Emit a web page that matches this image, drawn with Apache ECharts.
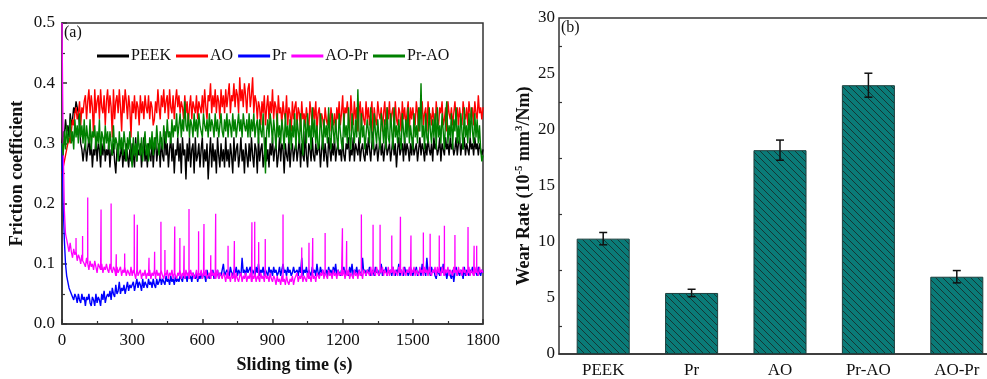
<!DOCTYPE html>
<html>
<head>
<meta charset="utf-8">
<script src="https://cdn.jsdelivr.net/npm/echarts@6/dist/echarts.min.js"></script>
<style>
  html, body { margin: 0; padding: 0; background: #fff; overflow: hidden; }
  #chart { width: 1010px; height: 379px; }
</style>
</head>
<body>
<div id="chart"></div>
<script>
// (a) friction coefficient, sampled every 5 s from 0 to 1800 s (one row = 100 s)
const timeStep = 5;

const peekValues = [
  0.30,0.32,0.31,0.34,0.32,0.33,0.31,0.35,0.33,0.34,0.36,0.35,0.37,0.36,0.35,0.33,0.30,0.29,0.27,0.29,
  0.30,0.27,0.29,0.31,0.28,0.30,0.26,0.29,0.28,0.31,0.27,0.30,0.29,0.26,0.30,0.28,0.31,0.27,0.29,0.28,
  0.30,0.26,0.29,0.28,0.30,0.27,0.25,0.29,0.30,0.27,0.28,0.30,0.26,0.29,0.27,0.30,0.28,0.26,0.29,0.27,
  0.30,0.28,0.26,0.31,0.27,0.29,0.28,0.30,0.26,0.29,0.31,0.27,0.29,0.26,0.30,0.28,0.27,0.31,0.26,0.29,
  0.31,0.27,0.29,0.30,0.26,0.31,0.28,0.27,0.32,0.28,0.30,0.26,0.29,0.31,0.27,0.30,0.25,0.29,0.28,0.31,
  0.27,0.30,0.25,0.31,0.28,0.29,0.24,0.30,0.27,0.31,0.26,0.29,0.30,0.25,0.31,0.27,0.28,0.30,0.26,0.29,
  0.31,0.26,0.29,0.27,0.30,0.24,0.28,0.31,0.26,0.30,0.27,0.29,0.25,0.31,0.28,0.26,0.30,0.27,0.29,0.26,
  0.31,0.27,0.29,0.26,0.30,0.28,0.25,0.31,0.27,0.29,0.30,0.26,0.28,0.31,0.27,0.29,0.25,0.30,0.28,0.26,
  0.30,0.27,0.31,0.28,0.26,0.30,0.29,0.25,0.31,0.27,0.29,0.30,0.26,0.28,0.31,0.27,0.29,0.26,0.30,0.28,
  0.31,0.27,0.29,0.30,0.26,0.28,0.31,0.27,0.30,0.29,0.25,0.30,0.28,0.27,0.31,0.26,0.29,0.30,0.27,0.29,
  0.30,0.27,0.29,0.31,0.26,0.30,0.28,0.27,0.32,0.28,0.26,0.30,0.29,0.27,0.31,0.28,0.27,0.30,0.28,0.29,
  0.30,0.26,0.29,0.31,0.27,0.30,0.28,0.26,0.31,0.29,0.27,0.30,0.28,0.31,0.27,0.29,0.30,0.28,0.29,0.27,
  0.31,0.28,0.27,0.30,0.29,0.31,0.27,0.29,0.28,0.31,0.27,0.30,0.29,0.28,0.31,0.27,0.29,0.30,0.28,0.27,
  0.30,0.28,0.31,0.29,0.27,0.30,0.32,0.28,0.29,0.30,0.27,0.29,0.31,0.28,0.30,0.27,0.29,0.31,0.28,0.29,
  0.30,0.27,0.29,0.31,0.28,0.30,0.26,0.29,0.31,0.28,0.29,0.30,0.27,0.31,0.28,0.30,0.29,0.27,0.30,0.28,
  0.31,0.28,0.29,0.30,0.27,0.29,0.31,0.28,0.30,0.29,0.27,0.30,0.28,0.31,0.29,0.28,0.30,0.27,0.31,0.29,
  0.30,0.28,0.29,0.31,0.27,0.30,0.29,0.28,0.31,0.29,0.30,0.28,0.31,0.29,0.30,0.28,0.29,0.31,0.28,0.30,
  0.31,0.28,0.30,0.29,0.31,0.28,0.30,0.29,0.28,0.31,0.29,0.30,0.28,0.31,0.29,0.30,0.28,0.30,0.29,0.28,
  0.29
];

const aoValues = [
  0.25,0.26,0.27,0.28,0.29,0.30,0.31,0.30,0.32,0.34,0.33,0.35,0.36,0.34,0.35,0.37,0.33,0.36,0.35,0.37,
  0.38,0.34,0.37,0.39,0.35,0.38,0.36,0.31,0.39,0.35,0.37,0.38,0.34,0.39,0.36,0.35,0.38,0.33,0.37,0.39,
  0.35,0.38,0.36,0.31,0.39,0.34,0.37,0.38,0.35,0.39,0.36,0.32,0.38,0.35,0.39,0.37,0.34,0.38,0.36,0.31,
  0.37,0.35,0.38,0.34,0.37,0.36,0.33,0.38,0.35,0.37,0.34,0.38,0.36,0.35,0.38,0.34,0.37,0.36,0.33,0.34,
  0.37,0.35,0.39,0.36,0.34,0.38,0.36,0.39,0.35,0.37,0.38,0.34,0.39,0.36,0.35,0.38,0.34,0.37,0.39,0.36,
  0.38,0.35,0.37,0.36,0.34,0.38,0.35,0.37,0.33,0.36,0.38,0.34,0.37,0.36,0.35,0.38,0.34,0.37,0.36,0.35,
  0.38,0.35,0.39,0.36,0.34,0.38,0.37,0.40,0.35,0.38,0.36,0.39,0.35,0.38,0.37,0.34,0.39,0.36,0.38,0.35,
  0.39,0.36,0.38,0.40,0.35,0.38,0.37,0.40,0.36,0.39,0.38,0.35,0.41,0.37,0.39,0.36,0.40,0.38,0.35,0.39,
  0.40,0.36,0.38,0.41,0.35,0.38,0.37,0.34,0.37,0.36,0.33,0.37,0.35,0.38,0.33,0.36,0.38,0.34,0.37,0.35,
  0.39,0.34,0.37,0.36,0.33,0.38,0.35,0.36,0.33,0.37,0.35,0.34,0.38,0.33,0.36,0.35,0.32,0.37,0.34,0.36,
  0.37,0.33,0.36,0.35,0.32,0.37,0.34,0.35,0.33,0.36,0.34,0.32,0.37,0.35,0.33,0.36,0.34,0.37,0.32,0.35,
  0.36,0.33,0.35,0.34,0.32,0.36,0.34,0.33,0.35,0.32,0.36,0.34,0.33,0.35,0.32,0.36,0.34,0.37,0.33,0.35,
  0.38,0.33,0.36,0.35,0.37,0.34,0.32,0.38,0.35,0.33,0.37,0.34,0.36,0.32,0.35,0.37,0.33,0.36,0.34,0.33,
  0.37,0.34,0.36,0.33,0.35,0.37,0.32,0.36,0.34,0.33,0.37,0.35,0.34,0.36,0.32,0.35,0.37,0.33,0.36,0.34,
  0.37,0.33,0.35,0.36,0.32,0.37,0.34,0.33,0.36,0.35,0.32,0.37,0.34,0.36,0.33,0.35,0.37,0.32,0.36,0.34,
  0.36,0.34,0.33,0.37,0.35,0.32,0.36,0.34,0.37,0.33,0.35,0.36,0.32,0.37,0.34,0.35,0.33,0.36,0.34,0.32,
  0.37,0.34,0.33,0.36,0.35,0.37,0.33,0.34,0.36,0.32,0.37,0.35,0.34,0.36,0.33,0.35,0.37,0.34,0.36,0.33,
  0.36,0.34,0.33,0.37,0.35,0.34,0.36,0.33,0.37,0.35,0.34,0.36,0.33,0.37,0.35,0.34,0.38,0.35,0.36,0.34,
  0.36
];

const prValues = [
  0.30,0.20,0.14,0.10,0.08,0.07,0.06,0.055,0.05,0.045,0.04,0.05,0.045,0.035,0.05,0.04,0.035,0.05,0.04,0.045,
  0.03,0.045,0.04,0.05,0.035,0.03,0.045,0.04,0.03,0.05,0.035,0.045,0.04,0.03,0.05,0.04,0.055,0.035,0.045,0.05,
  0.045,0.055,0.04,0.06,0.05,0.045,0.065,0.05,0.055,0.07,0.05,0.06,0.055,0.065,0.05,0.06,0.07,0.055,0.065,0.06,
  0.06,0.07,0.055,0.065,0.075,0.06,0.07,0.065,0.055,0.075,0.06,0.07,0.065,0.06,0.075,0.065,0.07,0.06,0.075,0.065,
  0.06,0.075,0.065,0.07,0.08,0.065,0.075,0.07,0.065,0.08,0.07,0.075,0.065,0.08,0.07,0.075,0.065,0.08,0.07,0.075,
  0.07,0.08,0.075,0.07,0.085,0.075,0.08,0.07,0.085,0.075,0.08,0.07,0.085,0.08,0.075,0.085,0.07,0.08,0.075,0.085,
  0.075,0.085,0.08,0.07,0.09,0.08,0.075,0.085,0.08,0.09,0.075,0.085,0.08,0.09,0.075,0.085,0.08,0.09,0.10,0.08,
  0.08,0.09,0.085,0.08,0.095,0.085,0.08,0.09,0.085,0.095,0.08,0.09,0.085,0.08,0.11,0.085,0.09,0.08,0.095,0.085,
  0.085,0.095,0.08,0.09,0.085,0.08,0.095,0.085,0.10,0.08,0.09,0.085,0.095,0.08,0.09,0.085,0.08,0.095,0.085,0.09,
  0.08,0.095,0.085,0.09,0.08,0.085,0.095,0.08,0.09,0.10,0.085,0.09,0.08,0.095,0.085,0.09,0.08,0.085,0.095,0.085,
  0.085,0.09,0.08,0.095,0.085,0.11,0.08,0.09,0.085,0.095,0.08,0.09,0.085,0.08,0.095,0.085,0.09,0.08,0.10,0.085,
  0.08,0.095,0.085,0.09,0.08,0.085,0.09,0.08,0.095,0.085,0.09,0.08,0.095,0.085,0.10,0.08,0.09,0.085,0.08,0.09,
  0.085,0.095,0.08,0.09,0.085,0.08,0.095,0.085,0.10,0.08,0.09,0.085,0.095,0.08,0.09,0.085,0.08,0.11,0.085,0.09,
  0.08,0.09,0.085,0.095,0.08,0.085,0.09,0.08,0.095,0.085,0.09,0.08,0.085,0.10,0.08,0.09,0.085,0.095,0.08,0.09,
  0.085,0.09,0.08,0.095,0.085,0.08,0.09,0.085,0.10,0.08,0.09,0.085,0.08,0.095,0.085,0.09,0.08,0.085,0.095,0.085,
  0.08,0.09,0.085,0.095,0.08,0.085,0.09,0.08,0.10,0.085,0.09,0.08,0.11,0.085,0.09,0.08,0.095,0.085,0.09,0.08,
  0.075,0.09,0.085,0.08,0.095,0.085,0.10,0.08,0.09,0.075,0.085,0.09,0.08,0.075,0.09,0.07,0.085,0.095,0.08,0.09,
  0.08,0.09,0.085,0.075,0.095,0.08,0.09,0.085,0.08,0.09,0.085,0.095,0.08,0.09,0.085,0.08,0.095,0.085,0.08,0.09,
  0.085
];

const aoPrValues = [
  0.50,0.30,0.19,0.15,0.14,0.13,0.12,0.135,0.12,0.11,0.125,0.115,0.12,0.105,0.115,0.11,0.10,0.115,0.105,0.10,
  0.095,0.11,0.10,0.09,0.105,0.095,0.10,0.09,0.105,0.095,0.085,0.10,0.095,0.09,0.10,0.085,0.095,0.09,0.10,0.09,
  0.085,0.10,0.09,0.085,0.095,0.09,0.08,0.095,0.085,0.09,0.095,0.08,0.09,0.085,0.095,0.08,0.09,0.085,0.08,0.095,
  0.08,0.09,0.085,0.075,0.09,0.08,0.085,0.09,0.075,0.085,0.08,0.09,0.075,0.085,0.08,0.09,0.075,0.085,0.08,0.09,
  0.075,0.09,0.08,0.085,0.075,0.09,0.08,0.075,0.085,0.08,0.09,0.075,0.085,0.08,0.09,0.075,0.085,0.08,0.075,0.085,
  0.08,0.09,0.075,0.085,0.08,0.075,0.09,0.08,0.085,0.075,0.09,0.08,0.085,0.075,0.08,0.09,0.075,0.085,0.08,0.09,
  0.075,0.085,0.08,0.09,0.075,0.08,0.085,0.075,0.09,0.08,0.085,0.075,0.08,0.09,0.075,0.085,0.08,0.075,0.085,0.08,
  0.07,0.085,0.075,0.08,0.07,0.085,0.075,0.08,0.07,0.085,0.075,0.07,0.08,0.085,0.07,0.08,0.075,0.085,0.07,0.08,
  0.075,0.085,0.07,0.08,0.075,0.085,0.07,0.08,0.075,0.07,0.085,0.075,0.08,0.07,0.085,0.075,0.08,0.07,0.085,0.075,
  0.07,0.08,0.075,0.065,0.08,0.07,0.075,0.065,0.08,0.07,0.075,0.065,0.08,0.07,0.065,0.075,0.07,0.08,0.065,0.075,
  0.075,0.085,0.07,0.08,0.075,0.085,0.07,0.08,0.075,0.07,0.085,0.075,0.08,0.07,0.085,0.075,0.08,0.07,0.085,0.08,
  0.075,0.085,0.08,0.09,0.075,0.085,0.08,0.075,0.09,0.08,0.085,0.075,0.09,0.08,0.085,0.075,0.09,0.08,0.085,0.08,
  0.08,0.09,0.075,0.085,0.08,0.09,0.075,0.085,0.08,0.075,0.09,0.08,0.085,0.075,0.09,0.08,0.085,0.075,0.09,0.085,
  0.08,0.09,0.085,0.08,0.095,0.08,0.09,0.085,0.08,0.095,0.085,0.08,0.09,0.085,0.095,0.08,0.09,0.085,0.08,0.095,
  0.08,0.09,0.085,0.095,0.08,0.09,0.085,0.08,0.095,0.085,0.09,0.08,0.095,0.085,0.08,0.09,0.085,0.095,0.08,0.09,
  0.085,0.095,0.08,0.09,0.085,0.08,0.095,0.085,0.09,0.08,0.095,0.085,0.09,0.08,0.095,0.085,0.08,0.09,0.085,0.095,
  0.08,0.095,0.085,0.09,0.08,0.095,0.085,0.08,0.09,0.085,0.095,0.08,0.09,0.085,0.08,0.095,0.085,0.09,0.08,0.095,
  0.085,0.09,0.08,0.095,0.085,0.09,0.08,0.085,0.095,0.08,0.09,0.085,0.08,0.095,0.085,0.09,0.08,0.095,0.085,0.09,
  0.085
];

// narrow spikes on the AO-Pr curve: [time (s), peak value]
const aoPrSpikes = [
  [60,0.143],[88,0.146],[110,0.21],[167,0.19],[210,0.20],[232,0.116],[268,0.117],
  [309,0.182],[322,0.165],[372,0.11],[396,0.12],[423,0.17],[440,0.123],[482,0.162],
  [504,0.143],[522,0.13],[543,0.191],[584,0.154],[607,0.166],[636,0.114],[657,0.183],
  [710,0.13],[737,0.138],[812,0.169],[824,0.17],[841,0.136],[869,0.141],[945,0.182],
  [1025,0.127],[1056,0.135],[1072,0.143],[1125,0.151],[1199,0.159],[1217,0.138],
  [1280,0.182],[1330,0.165],[1360,0.165],[1410,0.147],[1447,0.178],[1492,0.147],
  [1545,0.152],[1574,0.15],[1613,0.147],[1635,0.163],[1680,0.148],[1736,0.161],
  [1762,0.13],[1773,0.13]
];

const prAoValues = [
  0.30,0.28,0.32,0.29,0.33,0.30,0.31,0.34,0.30,0.32,0.29,0.34,0.31,0.33,0.30,0.35,0.31,0.33,0.30,0.34,
  0.29,0.33,0.31,0.30,0.34,0.29,0.32,0.31,0.33,0.29,0.32,0.30,0.34,0.28,0.32,0.31,0.29,0.33,0.30,0.32,
  0.29,0.32,0.30,0.28,0.33,0.29,0.31,0.30,0.27,0.32,0.29,0.31,0.28,0.32,0.30,0.27,0.31,0.29,0.32,0.28,
  0.26,0.31,0.28,0.30,0.27,0.32,0.29,0.28,0.31,0.27,0.30,0.32,0.28,0.30,0.27,0.31,0.29,0.32,0.28,0.31,
  0.29,0.33,0.30,0.28,0.32,0.30,0.29,0.33,0.31,0.30,0.34,0.31,0.32,0.30,0.34,0.31,0.33,0.32,0.35,0.31,
  0.33,0.35,0.31,0.34,0.32,0.37,0.33,0.32,0.35,0.31,0.34,0.33,0.31,0.35,0.32,0.34,0.31,0.35,0.33,0.32,
  0.31,0.35,0.33,0.32,0.34,0.31,0.35,0.32,0.34,0.33,0.31,0.35,0.32,0.34,0.31,0.33,0.35,0.32,0.31,0.34,
  0.32,0.35,0.31,0.34,0.33,0.31,0.35,0.32,0.34,0.31,0.33,0.35,0.32,0.34,0.31,0.35,0.33,0.32,0.34,0.31,
  0.35,0.31,0.34,0.32,0.35,0.31,0.33,0.34,0.30,0.34,0.32,0.31,0.35,0.30,0.25,0.32,0.34,0.31,0.35,0.33,
  0.30,0.34,0.32,0.29,0.35,0.31,0.33,0.30,0.34,0.32,0.29,0.35,0.31,0.33,0.30,0.34,0.29,0.33,0.31,0.35,
  0.29,0.34,0.32,0.30,0.35,0.31,0.28,0.34,0.33,0.30,0.35,0.31,0.33,0.29,0.36,0.31,0.34,0.30,0.33,0.29,
  0.30,0.35,0.32,0.29,0.34,0.31,0.33,0.30,0.36,0.31,0.29,0.35,0.32,0.30,0.34,0.31,0.29,0.35,0.32,0.30,
  0.29,0.35,0.31,0.33,0.30,0.36,0.31,0.29,0.35,0.32,0.30,0.34,0.31,0.39,0.32,0.30,0.35,0.31,0.33,0.29,
  0.29,0.34,0.32,0.30,0.36,0.31,0.29,0.35,0.32,0.30,0.34,0.31,0.29,0.35,0.33,0.30,0.34,0.29,0.36,0.31,
  0.30,0.35,0.32,0.29,0.36,0.31,0.33,0.30,0.34,0.31,0.29,0.35,0.32,0.30,0.34,0.31,0.36,0.30,0.33,0.31,
  0.29,0.35,0.31,0.33,0.30,0.36,0.32,0.40,0.31,0.33,0.29,0.35,0.31,0.30,0.36,0.32,0.30,0.34,0.31,0.35,
  0.29,0.36,0.31,0.33,0.30,0.35,0.32,0.29,0.34,0.37,0.30,0.33,0.31,0.35,0.29,0.34,0.32,0.36,0.30,0.33,
  0.30,0.35,0.32,0.29,0.36,0.31,0.33,0.30,0.35,0.31,0.36,0.32,0.30,0.35,0.31,0.34,0.30,0.33,0.29,0.27,
  0.28
];

// (b) wear rate
const materials = ['PEEK', 'Pr', 'AO', 'Pr-AO', 'AO-Pr'];
const wearRate = [10.3, 5.45, 18.2, 24.0, 6.9];
const wearError = [0.55, 0.33, 0.9, 1.07, 0.55];

const FONT = 'Liberation Serif';

const toPairs = values => values.map((v, i) => [i * timeStep, v]);

function withSpikes(values, spikes) {
  const pts = toPairs(values);
  spikes.forEach(([t, v]) => {
    const base = values[Math.round(t / timeStep)];
    pts.push([t - 0.4, base], [t, v], [t + 0.4, base]);
  });
  return pts.sort((a, b) => a[0] - b[0]);
}

// diagonal hatch fill for the bars
function hatchPattern() {
  const c = document.createElement('canvas');
  c.width = 7;
  c.height = 7;
  const ctx = c.getContext('2d');
  ctx.fillStyle = '#0a7b78';
  ctx.fillRect(0, 0, 7, 7);
  ctx.strokeStyle = '#143735';
  ctx.lineWidth = 1;
  ctx.beginPath();
  ctx.moveTo(-1, -1); ctx.lineTo(8, 8);
  ctx.moveTo(-1, 6); ctx.lineTo(1, 8);
  ctx.moveTo(6, -1); ctx.lineTo(8, 1);
  ctx.stroke();
  return c;
}

const chart = echarts.init(document.getElementById('chart'), null, { renderer: 'canvas' });

const axisLineStyle = { color: '#333', width: 1.5 };
const labelStyle = { fontFamily: FONT, fontSize: 17, color: '#111' };
const nameStyle = { fontFamily: FONT, fontSize: 18, fontWeight: 'bold', color: '#111' };

const lineSeries = (name, color, data, width) => ({
  name,
  type: 'line',
  xAxisIndex: 0,
  yAxisIndex: 0,
  data,
  showSymbol: false,
  symbol: 'none',
  sampling: null,
  lineStyle: { color, width },
  itemStyle: { color },
  emphasis: { disabled: true }
});

const option = {
  animation: false,
  backgroundColor: '#fff',
  grid: [
    { left: 62, top: 23, width: 421, height: 311, show: true, borderColor: '#333', borderWidth: 1.5 },
    { left: 559, top: 18, width: 442, height: 336, show: true, borderColor: '#333', borderWidth: 1.5 }
  ],
  legend: {
    left: 92,
    top: 43,
    icon: 'rect',
    itemWidth: 32,
    itemHeight: 3,
    itemGap: 5,
    textStyle: { fontFamily: FONT, fontSize: 16, color: '#111', padding: [0, 0, 0, -3] },
    data: ['PEEK', 'AO', 'Pr', 'AO-Pr', 'Pr-AO']
  },
  xAxis: [
    {
      gridIndex: 0,
      type: 'value',
      min: 0,
      max: 1800,
      interval: 300,
      name: 'Sliding time (s)',
      nameLocation: 'middle',
      nameGap: 32,
      nameTextStyle: Object.assign({}, nameStyle, { padding: [0, 0, 0, 44] }),
      axisLine: { lineStyle: axisLineStyle },
      axisTick: { inside: true, length: 5, lineStyle: axisLineStyle },
      minorTick: { show: true, splitNumber: 2, length: 3, lineStyle: { color: '#333', width: 1.2 } },
      axisLabel: Object.assign({}, labelStyle, { margin: 8, formatter: v => String(v) }),
      splitLine: { show: false }
    },
    {
      gridIndex: 1,
      type: 'category',
      data: materials,
      boundaryGap: true,
      axisLine: { lineStyle: axisLineStyle },
      axisTick: { inside: true, length: 4, interval: 0, lineStyle: axisLineStyle },
      axisLabel: Object.assign({}, labelStyle, { margin: 8, interval: 0 }),
      splitLine: { show: false }
    },
    {
      gridIndex: 1,
      type: 'category',
      data: materials,
      position: 'bottom',
      axisLine: { show: false },
      axisTick: { inside: true, length: 4, interval: 0, alignWithLabel: true, lineStyle: axisLineStyle },
      axisLabel: { show: false },
      splitLine: { show: false }
    }
  ],
  yAxis: [
    {
      gridIndex: 0,
      type: 'value',
      min: 0,
      max: 0.5,
      interval: 0.1,
      name: 'Friction coefficient',
      nameLocation: 'middle',
      nameGap: 36,
      nameTextStyle: nameStyle,
      axisLine: { lineStyle: axisLineStyle },
      axisTick: { inside: true, length: 5, lineStyle: axisLineStyle },
      minorTick: { show: true, splitNumber: 2, length: 3, lineStyle: { color: '#333', width: 1.2 } },
      axisLabel: Object.assign({}, labelStyle, { margin: 7, formatter: v => v.toFixed(1) }),
      splitLine: { show: false }
    },
    {
      gridIndex: 1,
      type: 'value',
      min: 0,
      max: 30,
      interval: 5,
      name: '{b|Wear Rate (10}{sup|-5}{b| mm}{sup|3}{b|/Nm)}',
      nameLocation: 'middle',
      nameGap: 24,
      nameTextStyle: {
        rich: {
          b: { fontFamily: FONT, fontSize: 18, fontWeight: 'bold', color: '#111' },
          sup: { fontFamily: FONT, fontSize: 11, fontWeight: 'bold', color: '#111', verticalAlign: 'top', padding: [0, 0, 10, 0] }
        }
      },
      axisLine: { lineStyle: axisLineStyle },
      axisTick: { inside: true, length: 5, lineStyle: axisLineStyle },
      minorTick: { show: true, splitNumber: 2, length: 3, lineStyle: { color: '#333', width: 1.2 } },
      axisLabel: Object.assign({}, labelStyle, { margin: 4 }),
      splitLine: { show: false }
    }
  ],
  graphic: [
    { type: 'text', left: 64, top: 25, style: { text: '(a)', font: '16px "Liberation Serif"', fill: '#111' } },
    { type: 'text', left: 561, top: 20, style: { text: '(b)', font: '16px "Liberation Serif"', fill: '#111' } }
  ],
  series: [
    lineSeries('PEEK', '#000000', toPairs(peekValues), 1.4),
    lineSeries('AO', '#ff0000', toPairs(aoValues), 1.4),
    lineSeries('Pr', '#0000ff', toPairs(prValues), 1.4),
    lineSeries('AO-Pr', '#ff00ff', withSpikes(aoPrValues, aoPrSpikes), 1.3),
    lineSeries('Pr-AO', '#008000', toPairs(prAoValues), 1.4),
    {
      name: 'Wear rate',
      type: 'bar',
      xAxisIndex: 1,
      yAxisIndex: 1,
      data: wearRate,
      barWidth: '60%',
      itemStyle: {
        color: { image: hatchPattern(), repeat: 'repeat' },
        borderColor: '#1c3f3d',
        borderWidth: 1
      },
      emphasis: { disabled: true }
    },
    {
      name: 'Error',
      type: 'custom',
      xAxisIndex: 1,
      yAxisIndex: 1,
      data: wearRate.map((v, i) => [i, v - wearError[i], v + wearError[i]]),
      renderItem: (params, api) => {
        const lo = api.coord([api.value(0), api.value(1)]);
        const hi = api.coord([api.value(0), api.value(2)]);
        const w = 4;
        const style = { stroke: '#111', lineWidth: 1.5 };
        return {
          type: 'group',
          children: [
            { type: 'line', shape: { x1: hi[0], y1: hi[1], x2: lo[0], y2: lo[1] }, style },
            { type: 'line', shape: { x1: hi[0] - w, y1: hi[1], x2: hi[0] + w, y2: hi[1] }, style },
            { type: 'line', shape: { x1: lo[0] - w, y1: lo[1], x2: lo[0] + w, y2: lo[1] }, style }
          ]
        };
      },
      z: 5
    }
  ]
};

chart.setOption(option);
</script>
</body>
</html>
